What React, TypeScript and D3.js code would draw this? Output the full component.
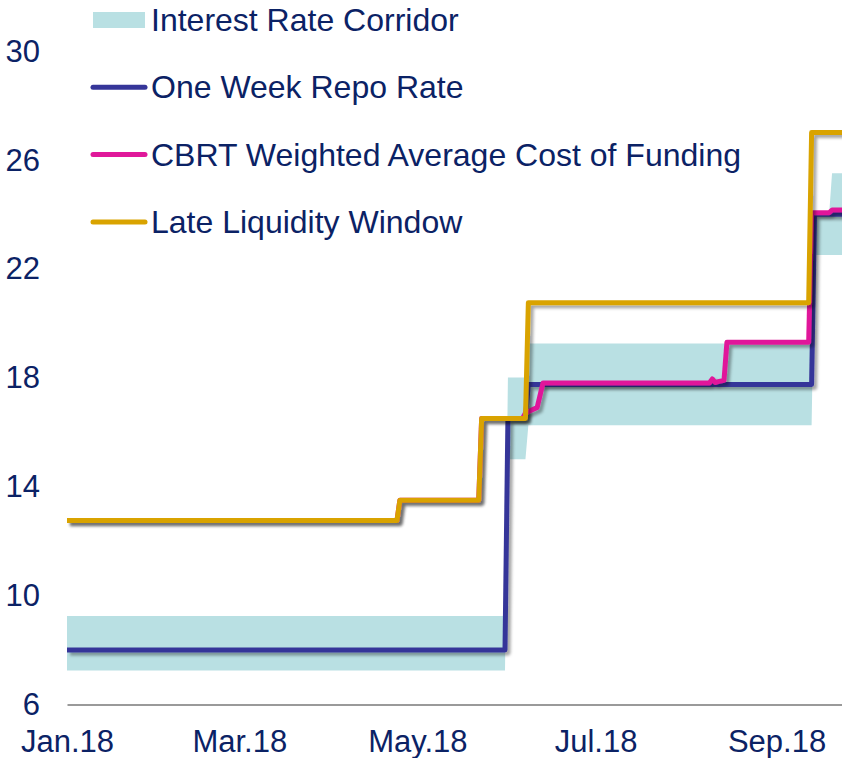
import React, { useEffect, useRef } from "react";
import * as d3 from "d3";

// corridor (overnight borrowing / lending)
const corridorDates = ["2018-01-01", "2018-05-31", "2018-06-01", "2018-06-07", "2018-06-08", "2018-09-13", "2018-09-14", "2018-09-19", "2018-09-20", "2018-09-30"];
const corridorLow = [7.25, 7.25, 15, 15, 16.25, 16.25, 22.5, 22.5, 22.5, 22.5];
const corridorHigh = [9.25, 9.25, 18, 18, 19.25, 19.25, 24, 24, 25.5, 25.5];

// one week repo rate
const repoDates = ["2018-01-01", "2018-05-31", "2018-06-01", "2018-06-07", "2018-06-08", "2018-09-13", "2018-09-14", "2018-09-30"];
const repoValues = [8, 8, 16.5, 16.5, 17.75, 17.75, 24, 24];

// CBRT weighted average cost of funding
const fundingDates = ["2018-01-01", "2018-04-24", "2018-04-25", "2018-05-22", "2018-05-23", "2018-06-06", "2018-06-07", "2018-06-11", "2018-06-13", "2018-08-09", "2018-08-10", "2018-08-11", "2018-08-12", "2018-08-14", "2018-08-15", "2018-09-12", "2018-09-13", "2018-09-19", "2018-09-20", "2018-09-30"];
const fundingValues = [12.75, 12.75, 13.5, 13.5, 16.5, 16.5, 16.7, 16.9, 17.8, 17.8, 17.95, 17.82, 17.85, 17.9, 19.3, 19.3, 24.05, 24.05, 24.15, 24.15];

// late liquidity window
const llwDates = ["2018-01-01", "2018-04-24", "2018-04-25", "2018-05-22", "2018-05-23", "2018-06-07", "2018-06-08", "2018-09-12", "2018-09-13", "2018-09-30"];
const llwValues = [12.75, 12.75, 13.5, 13.5, 16.5, 16.5, 20.75, 20.75, 27, 27];

const yTicks = [6, 10, 14, 18, 22, 26, 30];
const xTickDates = ["2018-01-01", "2018-03-01", "2018-05-01", "2018-07-01", "2018-09-01"];
const xTickLabels = ["Jan.18", "Mar.18", "May.18", "Jul.18", "Sep.18"];

const legendItems = [
  { label: "Interest Rate Corridor", color: "#b9e0e3", kind: "rect" },
  { label: "One Week Repo Rate", color: "#363699", kind: "line" },
  { label: "CBRT Weighted Average Cost of Funding", color: "#e0189a", kind: "line" },
  { label: "Late Liquidity Window", color: "#d9a300", kind: "line" },
];

const W = 842;
const H = 758;
const FONT = "'Liberation Sans', Arial, sans-serif";
const TEXT = "#0b2265";

const parse = d3.utcParse("%Y-%m-%d");

const App = () => {
  const ref = useRef(null);

  useEffect(() => {
    const svg = d3.select(ref.current);
    svg.selectAll("*").remove();

    const x = d3
      .scaleUtc()
      .domain([parse("2018-01-01"), parse("2018-10-01")])
      .range([67, 67 + 273 * 2.92]);
    const y = d3.scaleLinear().domain([6, 30]).range([704.5, 50.7]);

    const defs = svg.append("defs");
    const f = defs.append("filter").attr("id", "shadow").attr("x", "-10%").attr("y", "-10%").attr("width", "120%").attr("height", "120%");
    f.append("feDropShadow")
      .attr("dx", 3)
      .attr("dy", 3)
      .attr("stdDeviation", 1.6)
      .attr("flood-color", "#000")
      .attr("flood-opacity", 0.35);

    // corridor band
    const corridor = corridorDates.map((d, i) => ({ date: parse(d), lo: corridorLow[i], hi: corridorHigh[i] }));
    const area = d3
      .area()
      .x((d) => x(d.date))
      .y0((d) => y(d.lo))
      .y1((d) => y(d.hi));
    svg.append("path").datum(corridor).attr("fill", "#b9e0e3").attr("d", area);

    // x axis
    const xAxis = svg
      .append("g")
      .attr("transform", `translate(0,${y(6)})`)
      .call(
        d3
          .axisBottom(x)
          .tickValues(xTickDates.map(parse))
          .tickFormat((d, i) => xTickLabels[i])
          .tickSize(0)
          .tickSizeOuter(0)
      );
    xAxis.select(".domain").attr("stroke", "#9a9a9a").attr("stroke-width", 2);
    xAxis
      .selectAll("text")
      .attr("y", 47)
      .attr("dy", 0)
      .attr("fill", TEXT)
      .attr("font-size", 31)
      .attr("font-family", FONT);

    // y labels
    svg
      .append("g")
      .selectAll("text")
      .data(yTicks)
      .enter()
      .append("text")
      .attr("x", 40)
      .attr("y", (d) => y(d))
      .attr("dy", "0.35em")
      .attr("text-anchor", "end")
      .attr("fill", TEXT)
      .attr("font-size", 31)
      .attr("font-family", FONT)
      .text((d) => d);

    // lines
    const line = d3
      .line()
      .x((d) => x(d.date))
      .y((d) => y(d.value));
    const series = [
      { dates: repoDates, values: repoValues, color: legendItems[1].color },
      { dates: fundingDates, values: fundingValues, color: legendItems[2].color },
      { dates: llwDates, values: llwValues, color: legendItems[3].color },
    ];
    series.forEach((s) => {
      svg
        .append("path")
        .datum(s.dates.map((d, i) => ({ date: parse(d), value: s.values[i] })))
        .attr("fill", "none")
        .attr("stroke", s.color)
        .attr("stroke-width", 5)
        .attr("stroke-linejoin", "round")
        .attr("filter", "url(#shadow)")
        .attr("d", line);
    });

    // legend
    const legend = svg.append("g");
    legendItems.forEach((item, i) => {
      const cy = 20 + i * 67.3;
      if (item.kind === "rect") {
        legend.append("rect").attr("x", 93).attr("y", cy - 8).attr("width", 52).attr("height", 16).attr("fill", item.color);
      } else {
        legend
          .append("line")
          .attr("x1", 93)
          .attr("x2", 145)
          .attr("y1", cy)
          .attr("y2", cy)
          .attr("stroke", item.color)
          .attr("stroke-width", 5)
          .attr("stroke-linecap", "round");
      }
      legend
        .append("text")
        .attr("x", 151)
        .attr("y", cy + 11)
        .attr("fill", TEXT)
        .attr("font-size", 32)
        .attr("font-family", FONT)
        .text(item.label);
    });
  }, []);

  return (
    <svg
      ref={ref}
      width={W}
      height={H}
      style={{ position: "absolute", left: 0, top: 0, background: "#fff" }}
    />
  );
};

export default App;
